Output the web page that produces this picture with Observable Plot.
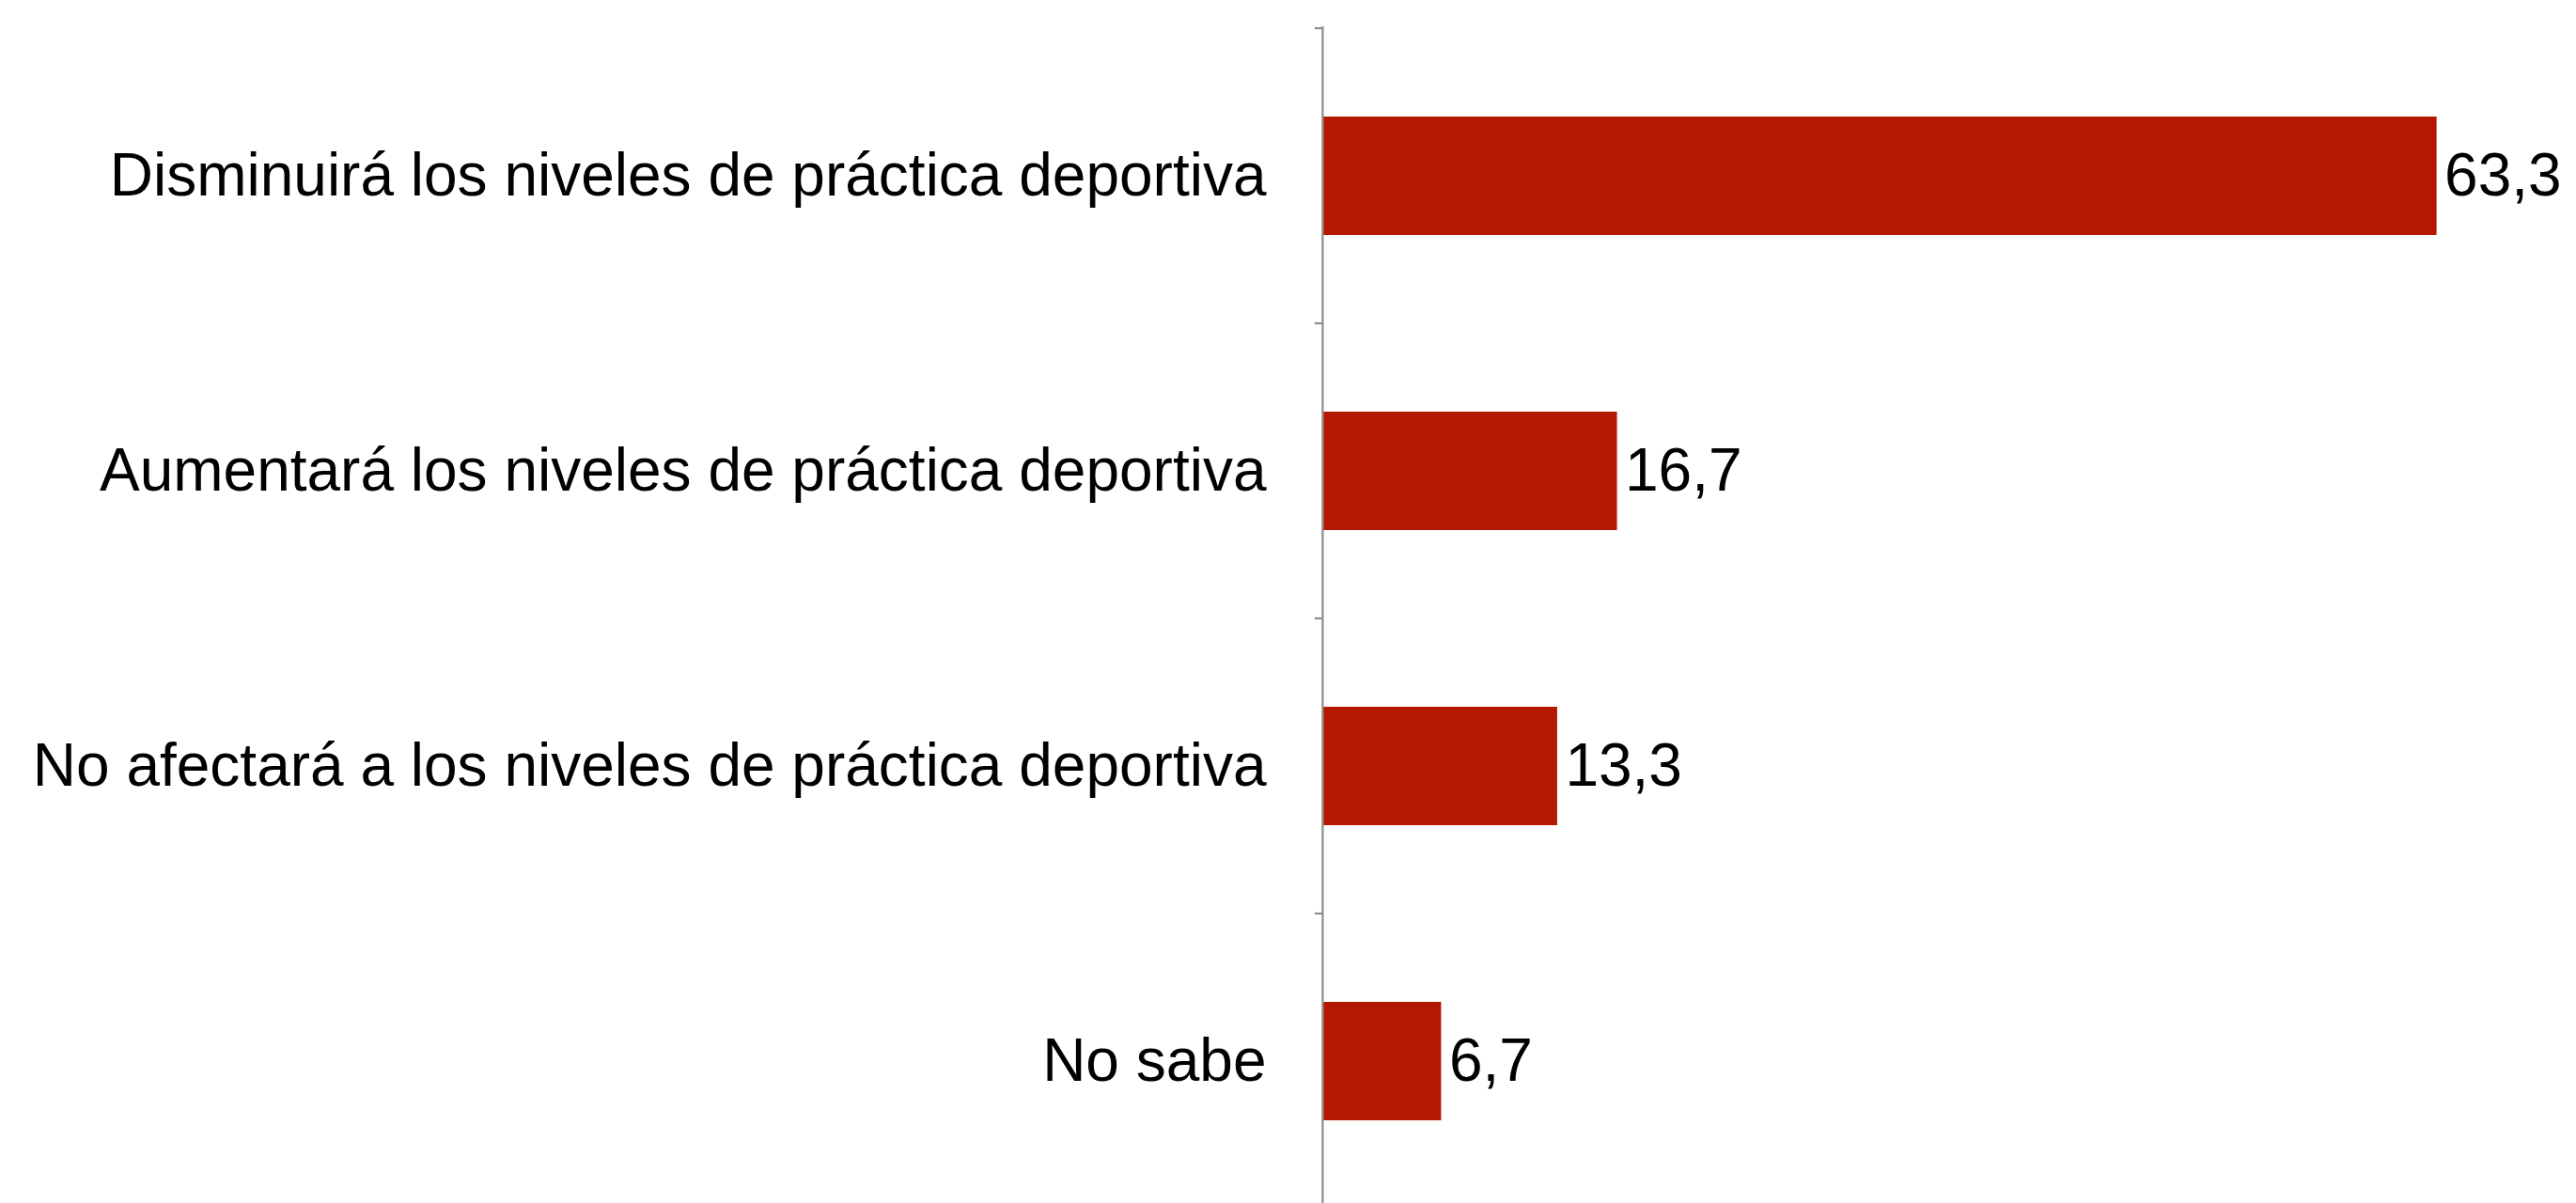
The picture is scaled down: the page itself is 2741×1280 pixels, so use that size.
<!DOCTYPE html>
<html>
<head>
<meta charset="utf-8">
<script src="https://cdn.jsdelivr.net/npm/d3@7"></script>
<script src="https://cdn.jsdelivr.net/npm/@observablehq/plot@0.6"></script>
<style>
  html, body { margin: 0; padding: 0; background: #ffffff; overflow: hidden; }
  #chart svg { display: block; }
</style>
</head>
<body>
<div id="chart"></div>
<script>
const categories = [
  "Disminuirá los niveles de práctica deportiva",
  "Aumentará los niveles de práctica deportiva",
  "No afectará a los niveles de práctica deportiva",
  "No sabe"
];
const values = [63.3, 16.7, 13.3, 6.7];

const data = categories.map((c, i) => ({category: c, value: values[i]}));
const fmt = v => v.toFixed(1).replace(".", ",");

const W = 2741, H = 1280;
const font = "'Liberation Sans', Arial, Helvetica, sans-serif";

const plot = Plot.plot({
  width: W,
  height: H,
  marginLeft: 1408,
  marginRight: 23,
  marginTop: 28,
  marginBottom: 0,
  style: {fontFamily: font, fontSize: "64px", color: "#000", background: "#fff", overflow: "hidden"},
  x: {domain: [0, 70], axis: null},
  y: {domain: categories, range: [28, 1287], paddingInner: 0.6, paddingOuter: 0.3, label: null},
  marks: [
    Plot.barX(data, {x: "value", y: "category", fill: "#b41800"}),
    Plot.ruleX([0], {stroke: "#8c8c8c", strokeWidth: 2.2, dx: -1.1}),
    Plot.text(data, {x: "value", y: "category", text: d => fmt(d.value), textAnchor: "start", dx: 8, fontSize: 64, fill: "#000"}),
    Plot.axisY({tickSize: 0, tickPadding: 61, fontSize: 64, label: null})
  ]
});

document.getElementById("chart").appendChild(plot);

// tick marks at band boundaries, derived from the library's y and x scales
const ys = plot.scale("y");
const xs = plot.scale("x");
const x0 = xs.apply(0) - 1.1;
const gap = (ys.step - ys.bandwidth) / 2;
const bounds = categories.map(c => ys.apply(c) - gap);
bounds.push(ys.apply(categories[categories.length - 1]) + ys.bandwidth + gap);
const g = d3.select(plot).append("g").attr("stroke", "#8c8c8c").attr("stroke-width", 2.2);
g.selectAll("line").data(bounds).join("line")
  .attr("x1", x0 - 8).attr("x2", x0)
  .attr("y1", d => d).attr("y2", d => d);
</script>
</body>
</html>
